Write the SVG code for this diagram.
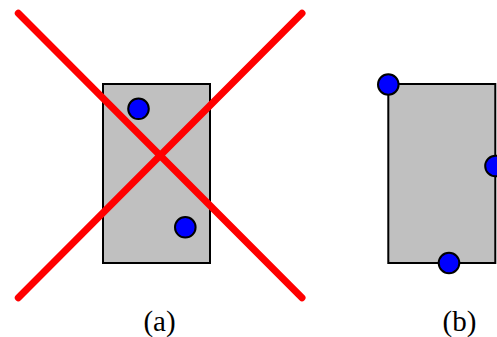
<svg xmlns="http://www.w3.org/2000/svg" width="497" height="337" viewBox="0 0 497 337">
<style>
.box{fill:#c0c0c0;stroke:#000;stroke-width:2}
.dot{fill:#0000ff;stroke:#000;stroke-width:2}
.cross{stroke:#ff0000;stroke-width:7;stroke-linecap:round;fill:none}
.lbl{font-family:"Liberation Serif","Times New Roman",serif;font-size:29px;fill:#000;text-anchor:middle}
</style>
<g id="panel-a">
<rect class="box" x="103" y="84" width="107" height="179"/>
<circle class="dot" cx="138.5" cy="108.8" r="10.3"/>
<circle class="dot" cx="185.3" cy="227.3" r="10.3"/>
<line class="cross" x1="18.3" y1="13.3" x2="302" y2="297.7"/>
<line class="cross" x1="302" y1="13.3" x2="18.3" y2="297.7"/>
<text class="lbl" x="159.5" y="331">(a)</text>
</g>
<g id="panel-b">
<rect class="box" x="388.3" y="84" width="107" height="179"/>
<circle class="dot" cx="388.3" cy="84.5" r="10.3"/>
<circle class="dot" cx="495.5" cy="166" r="10.3"/>
<circle class="dot" cx="449" cy="263" r="10.3"/>
<text class="lbl" x="459.5" y="331">(b)</text>
</g>
</svg>
